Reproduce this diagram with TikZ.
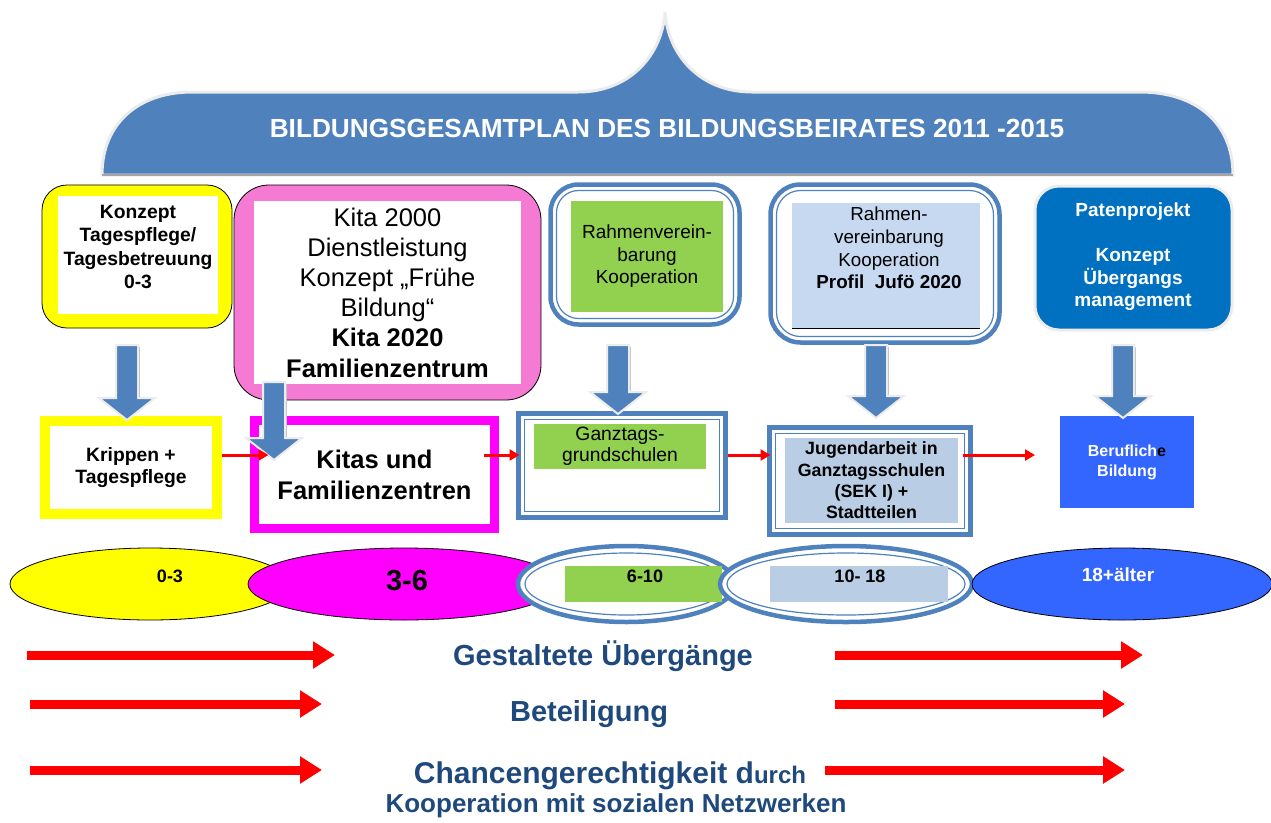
\documentclass[tikz,border=0pt]{standalone}
\usepackage{fontspec}
\setmainfont{Liberation Sans}
\usetikzlibrary{shapes.geometric,calc,arrows.meta}
\definecolor{dome}{HTML}{4F81BD}
\definecolor{ylw}{HTML}{FFFF00}
\definecolor{pinkbox}{HTML}{F47AD4}
\definecolor{mag}{HTML}{FF00FF}
\definecolor{grn}{HTML}{92D050}
\definecolor{lblue}{HTML}{C6D9F1}
\definecolor{lbluetwo}{HTML}{B9CDE5}
\definecolor{patblue}{HTML}{0070C0}
\definecolor{berblue}{HTML}{3366FF}
\definecolor{navy}{HTML}{1F497D}
\definecolor{shade}{HTML}{ECECEC}
\newcommand\fs[2]{\fontsize{#1}{#2}\selectfont}
\newcommand\bluedown[3]{%
  \draw[draw=shade, line width=2pt, fill=dome]
    (#1-11,#2) -- (#1+11,#2) -- (#1+11,#3-22) -- (#1+28,#3-22) -- (#1,#3)
    -- (#1-28,#3-22) -- (#1-11,#3-22) -- cycle;
  \draw[gray!45, line width=1.2pt] (#1+12.5,#2+2) -- (#1+12.5,#3-23);}
\tikzset{
  base/.style={inner sep=0pt, outer sep=0pt, align=center},
  dblbox/.style={base, draw=dome, line width=4.5pt},
  inline/.style={draw=dome, line width=1.2pt},
  redcon/.style={draw=red, line width=3pt, -{Triangle[length=10pt,width=11pt]}},
  bigred/.style={draw=red, line width=9pt, -{Triangle[length=22pt,width=26pt]}},
  bottomtxt/.style={base, text=navy, font=\bfseries\fs{29}{34}},
}
\begin{document}
\begin{tikzpicture}[x=1pt,y=-1pt]
\useasboundingbox (0,0) rectangle (1271,822);

% dome
\draw[draw=shade, line width=3pt, fill=dome]
  (102,175) .. controls (102,122) and (140,92) .. (192,92) -- (578,92)
  .. controls (630,92) and (662,55) .. (665,12)
  .. controls (668,55) and (700,92) .. (752,92) -- (1140,92)
  .. controls (1195,92) and (1233,122) .. (1233,175) -- cycle;
\draw[gray!70, line width=2pt] (102,175) -- (1233,175);
\node[base, text=white, font=\bfseries\fs{26.2}{30}] (title) at (667,128)
  {BILDUNGSGESAMTPLAN DES BILDUNGSBEIRATES 2011 -2015};

% top boxes
\node[base, draw=black, line width=0.8pt, fill=ylw, rounded corners=25pt,
  minimum width=190pt, minimum height=143pt] (t1o) at (137,256.5) {};
\node[base, fill=white, minimum width=160pt, minimum height=118pt] (t1) at (138,255) {};
\node[base, font=\bfseries\fs{19.3}{23.5}] (t1t) at (138,247)
  {Konzept\\Tagespflege/\\Tagesbetreuung\\0-3};

\node[base, draw=black, line width=0.8pt, fill=pinkbox, rounded corners=35pt,
  minimum width=307pt, minimum height=215pt] (t2o) at (387.5,292.5) {};
\node[base, fill=white, minimum width=267pt, minimum height=183pt,
  font=\fs{25.5}{30.2}] (t2) at (387.5,292.5)
  {Kita 2000\\Dienstleistung\\Konzept „Frühe\\Bildung“\\\textbf{Kita 2020}\\\textbf{Familienzentrum}};

\node[dblbox, fill=white, rounded corners=28pt, minimum width=189pt, minimum height=140pt]
  (t3o) at (645,254.5) {};
\draw[inline, rounded corners=22pt] ($(t3o.north west)+(6,6)$) rectangle ($(t3o.south east)+(-6,-6)$);
\node[base, fill=grn, minimum width=152pt, minimum height=111pt, font=\fs{19}{22.5}]
  (t3) at (647,256.5) {Rahmenverein-\\barung\\Kooperation};

\node[dblbox, fill=white, rounded corners=30pt, minimum width=229pt, minimum height=158pt]
  (t4o) at (885,263.5) {};
\draw[inline, rounded corners=24pt] ($(t4o.north west)+(6,6)$) rectangle ($(t4o.south east)+(-6,-6)$);
\node[base, fill=lblue, minimum width=188pt, minimum height=125pt] (t4) at (886,265.5) {};
\draw[black, line width=1pt] (t4.south west) -- (t4.south east);
\node[base, font=\fs{18.8}{22.7}] (t4t) at (889,248)
  {Rahmen-\\vereinbarung\\Kooperation\\\textbf{Profil\ \ Jufö 2020}};

\node[base, draw=shade, line width=3pt, fill=patblue, rounded corners=24pt,
  minimum width=197pt, minimum height=144pt] (t5o) at (1133.5,258) {};
\node[base, text=white, font=\bfseries\fs{19}{22.5}] (t5) at (1133,257)
  {Patenprojekt\\\mbox{}\\Konzept\\Übergangs\\management};

% second row
\node[base, draw=ylw, line width=10pt, fill=white, minimum width=172pt, minimum height=93pt,
  font=\bfseries\fs{19.3}{22}] (r1) at (131,467.5) {Krippen +\\Tagespflege};
\node[base, draw=mag, line width=9pt, fill=white, minimum width=240pt, minimum height=108pt,
  font=\bfseries\fs{25.5}{31}] (r2) at (374.5,474.5) {Kitas und\\Familienzentren};
\node[dblbox, fill=white, minimum width=207pt, minimum height=104pt] (r3o) at (622,465.5) {};
\draw[inline] ($(r3o.north west)+(6,6)$) rectangle ($(r3o.south east)+(-6,-6)$);
\node[base, fill=grn, minimum width=172pt, minimum height=45pt, font=\fs{19.3}{21}]
  (r3) at (620,446.5) {Ganztags-\\grundschulen};
\node[dblbox, fill=white, minimum width=201pt, minimum height=107pt] (r4o) at (870,481) {};
\draw[inline] ($(r4o.north west)+(6,6)$) rectangle ($(r4o.south east)+(-6,-6)$);
\node[base, fill=lbluetwo, minimum width=173pt, minimum height=85pt, font=\bfseries\fs{17.8}{21.3}]
  (r4) at (871.5,480.5) {Jugendarbeit in\\Ganztagsschulen\\(SEK I) +\\Stadtteilen};
\node[base, fill=berblue, minimum width=134pt, minimum height=92pt,
  text=white, font=\bfseries\fs{16}{20}] (r5) at (1127,462) {Beruflich\textcolor{black}{e}\\Bildung};

% block arrows down
\bluedown{127}{345}{420}
\bluedown{274}{382}{460}
\bluedown{618}{345}{414}
\bluedown{876}{345}{418}
\bluedown{1123}{345}{418}

% red connectors
\draw[redcon] ($(r1.east)+(5,-12.5)$) -- ($(r2.west)+(14,-19.5)$);
\draw[redcon] ($(r2.east)+(-11,-19.5)$) -- ($(r3o.west)+(1,-10.5)$);
\draw[redcon] ($(r3o.east)+(2,-10.5)$) -- ($(r4o.west)+(1,-26)$);
\draw[redcon] ($(r4o.east)+(-8,-26)$) -- ($(r5.west)+(-25,-7)$);

% ellipses
\node[base, ellipse, draw=black, line width=0.8pt, fill=ylw, minimum width=280pt, minimum height=72pt]
  (e1) at (150,584) {};
\node[base, font=\bfseries\fs{18}{20}] (e1t) at (170,576) {0-3};
\node[base, ellipse, draw=black, line width=0.8pt, fill=mag, minimum width=312pt, minimum height=72pt]
  (e2) at (404,584) {};
\node[base, font=\bfseries\fs{29}{32}] (e2t) at (407,581) {3-6};
\node[base, ellipse, draw=dome, line width=4.5pt, fill=white, minimum width=217pt, minimum height=76pt]
  (e3) at (626.5,584) {};
\node[base, ellipse, draw=dome, line width=1.2pt, minimum width=203pt, minimum height=62pt] at (626.5,584) {};
\node[base, fill=grn, minimum width=157pt, minimum height=36pt] (e3r) at (643.5,584) {};
\node[base, font=\bfseries\fs{18}{20}] (e3t) at (645,576) {6-10};
\node[base, ellipse, draw=dome, line width=4.5pt, fill=white, minimum width=252pt, minimum height=76pt]
  (e4) at (846,584) {};
\node[base, ellipse, draw=dome, line width=1.2pt, minimum width=238pt, minimum height=62pt] at (846,584) {};
\node[base, fill=lbluetwo, minimum width=178pt, minimum height=36pt] (e4r) at (859,584) {};
\node[base, font=\bfseries\fs{18}{20}] (e4t) at (860,576) {10- 18};
\node[base, ellipse, draw=black, line width=0.8pt, fill=berblue, minimum width=300pt, minimum height=72pt]
  (e5) at (1122,584) {};
\node[base, text=white, font=\bfseries\fs{19}{20}] (e5t) at (1118,575) {18+älter};

% bottom
\node[bottomtxt] (g1) at (603,656) {Gestaltete Übergänge};
\node[bottomtxt] (g2) at (589,714) {Beteiligung};
\node[bottomtxt, font=\bfseries\fs{30}{34}] (g3) at (610,776) {Chancengerechtigkeit d{\fs{24}{28}urch}};
\node[bottomtxt, font=\bfseries\fs{26}{30}] (g4) at (616,806) {Kooperation mit sozialen Netzwerken};
\coordinate (a1s) at (27,655); \coordinate (a1e) at (335,655);
\coordinate (b1s) at (835,655); \coordinate (b1e) at (1143,655);
\coordinate (a2s) at (30,704); \coordinate (a2e) at (322,704);
\coordinate (b2s) at (835,704); \coordinate (b2e) at (1125,704);
\coordinate (a3s) at (30,770); \coordinate (a3e) at (322,770);
\coordinate (b3s) at (825,770); \coordinate (b3e) at (1125,770);
\draw[bigred] (a1s) -- (a1e);
\draw[bigred] (b1s) -- (b1e);
\draw[bigred] (a2s) -- (a2e);
\draw[bigred] (b2s) -- (b2e);
\draw[bigred] (a3s) -- (a3e);
\draw[bigred] (b3s) -- (b3e);
\end{tikzpicture}
\end{document}
